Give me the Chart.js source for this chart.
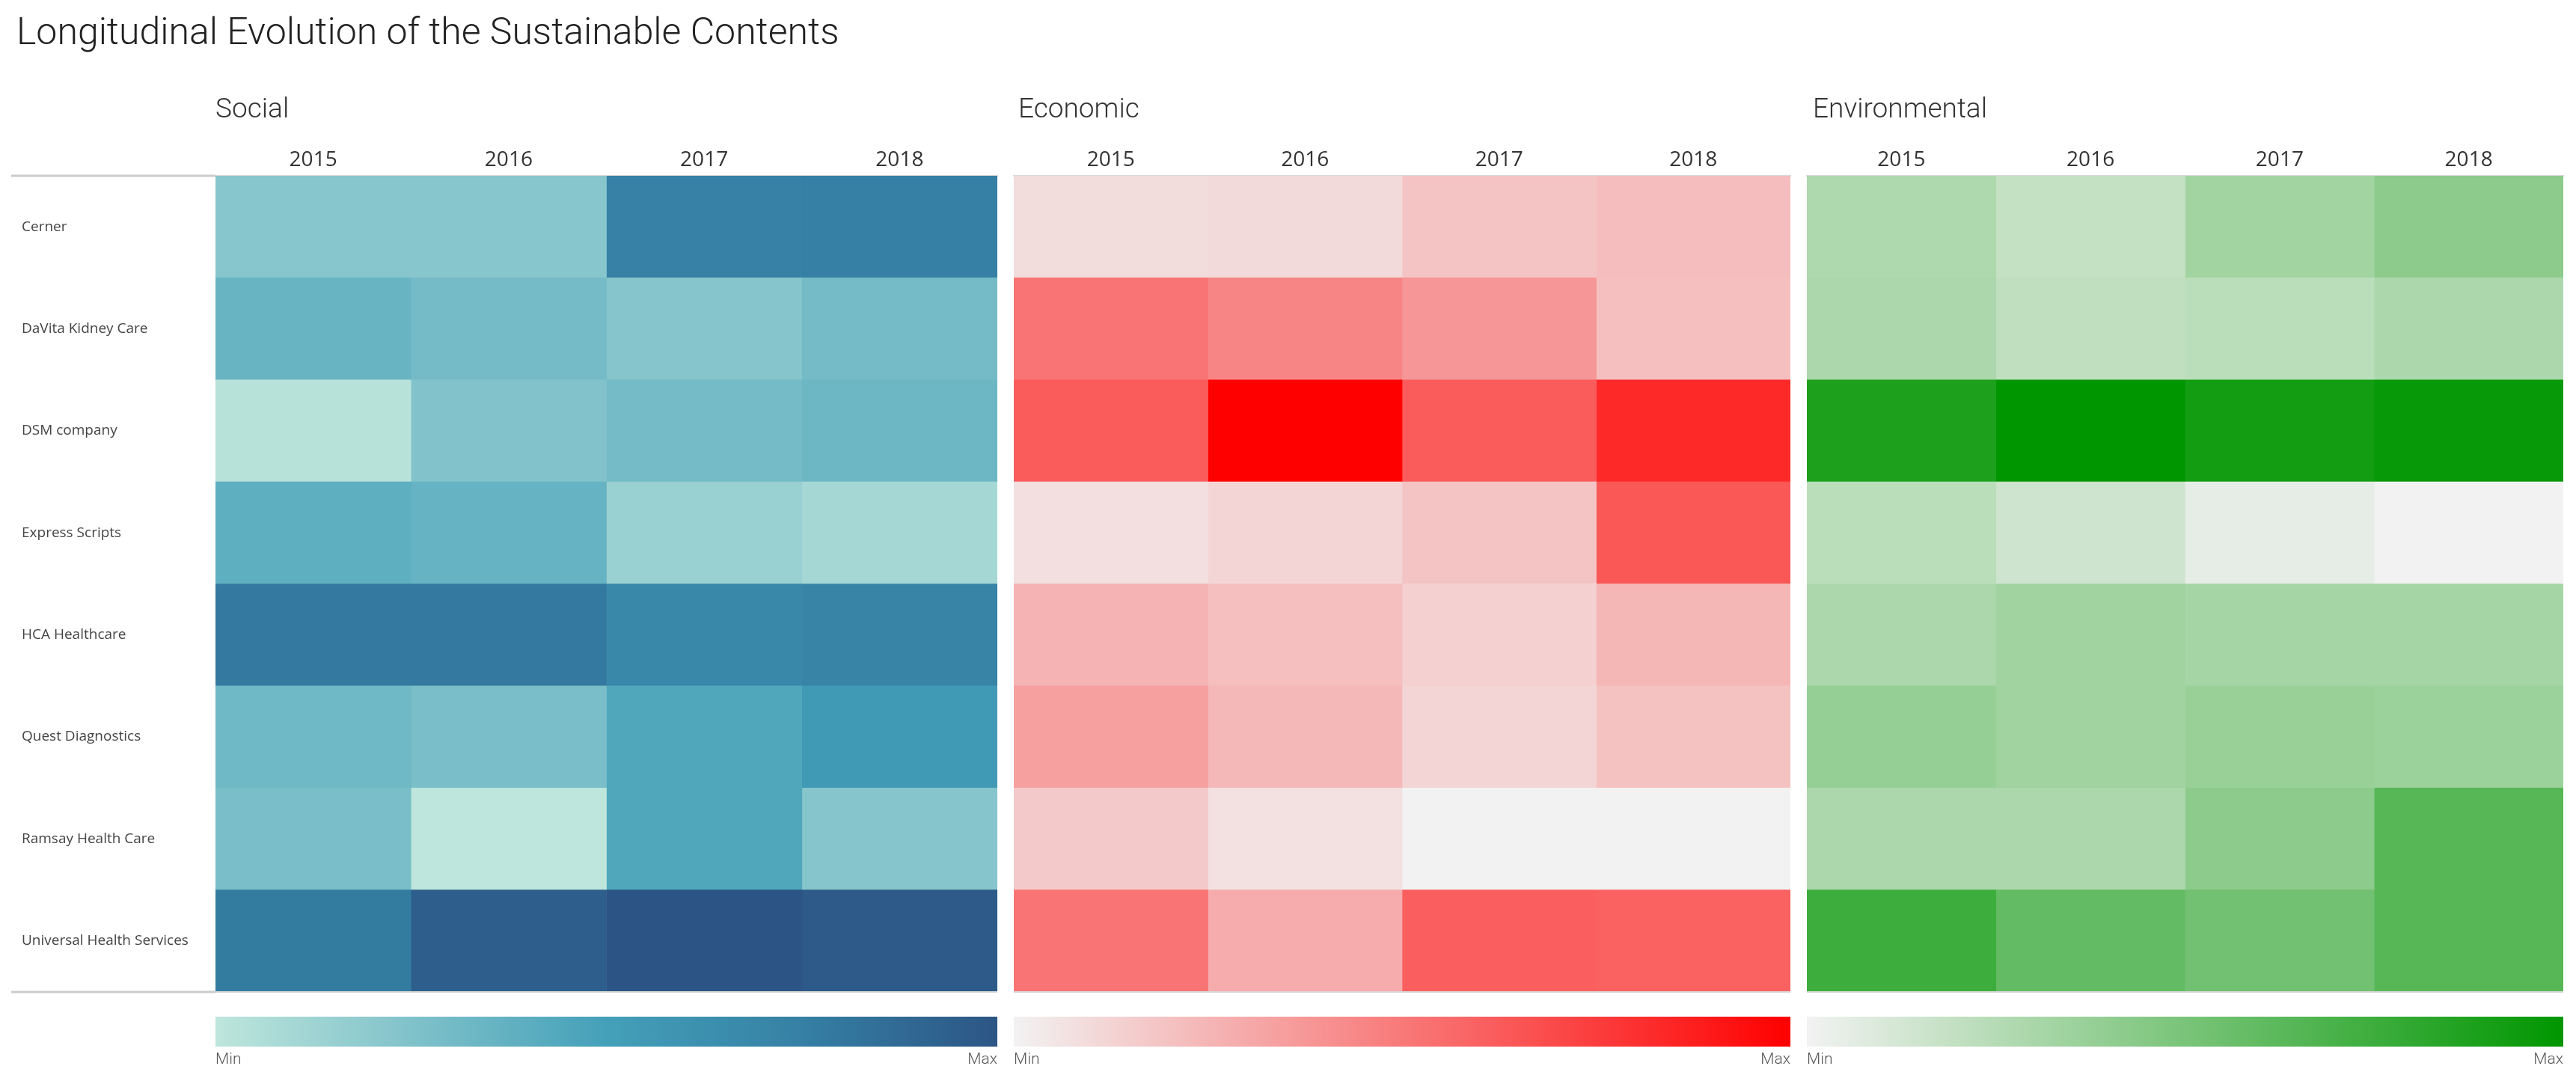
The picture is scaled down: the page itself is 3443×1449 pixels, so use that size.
<!DOCTYPE html>
<html>
<head>
<meta charset="utf-8">
<script src="https://cdn.jsdelivr.net/npm/chart.js@4.4.1/dist/chart.umd.min.js"></script>
<style>
body { margin: 0; background: #fff; }
#wrap { position: relative; width: 3443px; height: 1449px; overflow: hidden; }
#title { position: absolute; left: 22px; top: 13px; font: 300 50px Roboto; color: #222; white-space: nowrap; }
canvas { position: absolute; top: 0; }
</style>
</head>
<body>
<div id="wrap">
  <div id="title">Longitudinal Evolution of the Sustainable Contents</div>
  <canvas id="social"></canvas>
  <canvas id="economic"></canvas>
  <canvas id="environmental"></canvas>
</div>
<script>
const companies = ['Cerner', 'DaVita Kidney Care', 'DSM company', 'Express Scripts',
                   'HCA Healthcare', 'Quest Diagnostics', 'Ramsay Health Care', 'Universal Health Services'];
const years = ['2015', '2016', '2017', '2018'];

// scaled 0 (min) .. 1 (max), one row per company, columns 2015..2018
const social = [
    [0.22, 0.22, 0.74, 0.75],
    [0.35, 0.30, 0.23, 0.30],
    [0.03, 0.24, 0.30, 0.33],
    [0.39, 0.36, 0.15, 0.10],
    [0.79, 0.79, 0.69, 0.72],
    [0.32, 0.28, 0.45, 0.55],
    [0.28, 0.00, 0.45, 0.23],
    [0.78, 0.94, 1.00, 0.97]
];
const economic = [
    [0.09, 0.10, 0.19, 0.22],
    [0.52, 0.45, 0.38, 0.21],
    [0.62, 1.00, 0.62, 0.83],
    [0.08, 0.12, 0.19, 0.64],
    [0.26, 0.21, 0.14, 0.25],
    [0.34, 0.24, 0.12, 0.20],
    [0.17, 0.07, 0.00, 0.00],
    [0.52, 0.29, 0.61, 0.60]
];
const environmental = [
    [0.28, 0.19, 0.33, 0.42],
    [0.29, 0.21, 0.23, 0.29],
    [0.88, 1.00, 0.92, 0.97],
    [0.23, 0.15, 0.05, 0.00],
    [0.29, 0.34, 0.32, 0.32],
    [0.38, 0.34, 0.37, 0.36],
    [0.29, 0.29, 0.42, 0.64],
    [0.75, 0.59, 0.53, 0.64]
];

const socialStops = [[0, '#bee6dc'], [0.25, '#80c2ca'], [0.5, '#44a0b9'], [0.75, '#3580a4'], [1, '#2c5585']];
const economicStops = [[0, '#f2f2f2'], [1, '#ff0000']];
const environmentalStops = [[0, '#f2f2f2'], [1, '#009600']];

function hexToRgb(h) {
    return [parseInt(h.slice(1, 3), 16), parseInt(h.slice(3, 5), 16), parseInt(h.slice(5, 7), 16)];
}

function scaleColor(stops, t) {
    for (let i = 1; i < stops.length; i++) {
        if (t <= stops[i][0]) {
            const f = (t - stops[i - 1][0]) / (stops[i][0] - stops[i - 1][0]);
            const a = hexToRgb(stops[i - 1][1]), b = hexToRgb(stops[i][1]);
            return 'rgb(' + a.map((v, k) => Math.round(v + (b[k] - v) * f)).join(',') + ')';
        }
    }
    return stops[stops.length - 1][1];
}

const panelPlugin = {
    id: 'panel',
    afterDraw(chart, args, opts) {
        const ctx = chart.ctx;
        const a = chart.chartArea;
        ctx.save();

        ctx.fillStyle = '#333';
        ctx.font = '300 37px Roboto';
        ctx.textAlign = 'left';
        ctx.textBaseline = 'middle';
        ctx.fillText(opts.title, a.left + opts.titleShift, 148);

        ctx.strokeStyle = '#d9d9d9';
        ctx.lineWidth = 2;
        ctx.beginPath();
        ctx.moveTo(a.left, a.bottom);
        ctx.lineTo(a.right, a.bottom);
        ctx.stroke();

        if (opts.ruleFrom != null) {
            ctx.strokeStyle = '#cccccc';
            ctx.lineWidth = 3;
            ctx.beginPath();
            ctx.moveTo(opts.ruleFrom, a.top);
            ctx.lineTo(a.left, a.top);
            ctx.moveTo(opts.ruleFrom, a.bottom);
            ctx.lineTo(a.left, a.bottom);
            ctx.stroke();
        }

        const g = ctx.createLinearGradient(a.left, 0, a.right, 0);
        opts.stops.forEach(s => g.addColorStop(s[0], s[1]));
        ctx.fillStyle = g;
        ctx.fillRect(a.left, a.bottom + 33, a.right - a.left, 40);

        ctx.fillStyle = '#555';
        ctx.font = '300 21px Roboto';
        ctx.textBaseline = 'top';
        ctx.textAlign = 'left';
        ctx.fillText('Min', a.left, a.bottom + 80);
        ctx.textAlign = 'right';
        ctx.fillText('Max', a.right, a.bottom + 80);
        ctx.restore();
    }
};

function chart_heatmap(id, title, values, stops, box) {
    const canvas = document.getElementById(id);
    canvas.width = box.width;
    canvas.height = 1449;
    canvas.style.left = box.left + 'px';
    canvas.style.width = box.width + 'px';
    canvas.style.height = '1449px';

    const datasets = years.map(function(yr, j) {
        return {
            label: yr,
            data: companies.map(function() { return 1; }),
            backgroundColor: values.map(function(row) { return scaleColor(stops, row[j]); }),
            borderWidth: 0,
            barPercentage: 1,
            categoryPercentage: 1
        };
    });

    return new Chart(canvas, {
        type: 'bar',
        data: { labels: companies, datasets: datasets },
        plugins: [panelPlugin],
        options: {
            indexAxis: 'y',
            responsive: false,
            animation: false,
            devicePixelRatio: 1,
            layout: { padding: { left: box.padLeft, right: box.padRight, top: 180, bottom: 123 } },
            plugins: {
                legend: { display: false },
                tooltip: { enabled: false },
                panel: { title: title, stops: stops, ruleFrom: box.ruleFrom, titleShift: box.titleShift }
            },
            scales: {
                x: {
                    type: 'linear',
                    stacked: true,
                    min: 0,
                    max: 4,
                    position: 'top',
                    grid: { display: false, drawTicks: false },
                    border: { display: true, color: '#d9d9d9', width: 2 },
                    afterBuildTicks: function(s) { s.ticks = years.map(function(y, i) { return { value: i + 0.5 }; }); },
                    afterFit: function(s) { s.height = 55; },
                    ticks: {
                        padding: 4,
                        color: '#333',
                        font: { family: 'Open Sans', size: 28 },
                        callback: function(v) { return years[Math.floor(v)]; }
                    }
                },
                y: {
                    type: 'category',
                    stacked: true,
                    display: box.showLabels,
                    grid: { display: false, drawTicks: false },
                    border: { display: false },
                    afterFit: function(s) { s.width = box.showLabels ? 259 : 0; },
                    ticks: {
                        crossAlign: 'far',
                        color: '#444',
                        font: { family: 'Open Sans', size: 19 }
                    }
                }
            }
        }
    });
}

chart_heatmap('social', 'Social', social, socialStops,
    { left: 0, width: 1343, padLeft: 29, padRight: 10, showLabels: true, ruleFrom: 15, titleShift: 0 });
chart_heatmap('economic', 'Economic', economic, economicStops,
    { left: 1343, width: 1061, padLeft: 12, padRight: 11, showLabels: false, ruleFrom: null, titleShift: 6 });
chart_heatmap('environmental', 'Environmental', environmental, environmentalStops,
    { left: 2404, width: 1039, padLeft: 11, padRight: 17, showLabels: false, ruleFrom: null, titleShift: 8 });
</script>
</body>
</html>
